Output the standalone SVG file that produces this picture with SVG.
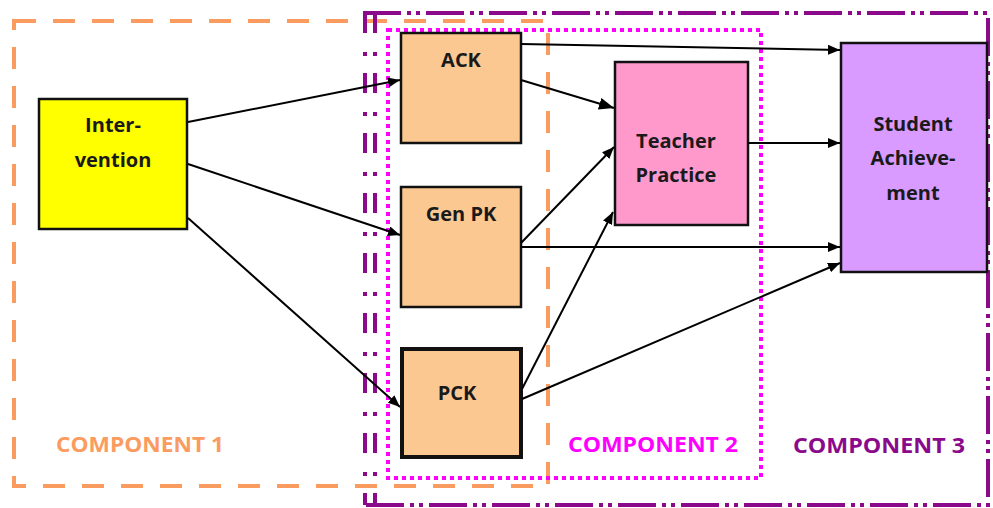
<svg xmlns="http://www.w3.org/2000/svg" width="993" height="508" viewBox="0 0 993 508">
<defs>
<marker id="ah" markerUnits="userSpaceOnUse" markerWidth="12" markerHeight="10" refX="12" refY="5" orient="auto"><path d="M0,0 L12,5 L0,10 z" fill="#000"/></marker>
<marker id="ahb" markerUnits="userSpaceOnUse" markerWidth="15" markerHeight="12" refX="15" refY="6" orient="auto"><path d="M0,0 L15,6 L0,12 z" fill="#000"/></marker>
<style>
.lbl{font-family:"Open Sans","Liberation Sans",sans-serif;font-weight:bold;font-size:20px;fill:#1a1a1a;text-anchor:middle}
.comp{font-family:"Open Sans","Liberation Sans",sans-serif;font-weight:bold;font-size:21px}
.box{stroke:#111;stroke-width:2.5}
.conn{stroke:#000;stroke-width:2;fill:none}
.pur{stroke:#8B0A8B;stroke-width:4;fill:none}
</style>
</defs>
<g id="frame-component1">
<rect x="14" y="21" width="534" height="465" fill="none" stroke="#FA9C60" stroke-width="4" stroke-dasharray="22 17"/>
<text class="comp" x="56" y="452" fill="#FA9C60" textLength="168" lengthAdjust="spacingAndGlyphs">COMPONENT 1</text>
</g>
<g id="frame-component3">
<path class="pur" d="M363,13 H988 V505 H363" stroke-dasharray="38 6 4 5 4 6"/>
<path class="pur" d="M365,13 V505" stroke-dasharray="20 19 4 17"/>
<path class="pur" d="M375,13 V505" stroke-dasharray="20 19 4 17"/>
<text class="comp" x="793" y="453" fill="#8B0A8B" textLength="172" lengthAdjust="spacingAndGlyphs">COMPONENT 3</text>
</g>
<g id="frame-component2">
<rect x="388" y="30" width="373" height="448" fill="none" stroke="#FF00FF" stroke-width="4" stroke-dasharray="4 4"/>
<text class="comp" x="568" y="452" fill="#FF00FF" textLength="170" lengthAdjust="spacingAndGlyphs">COMPONENT 2</text>
</g>
<g id="intervention">
<rect class="box" x="39" y="99" width="148" height="130" fill="#FFFF00"/>
<text class="lbl" x="113" y="132">Inter-</text>
<text class="lbl" x="113" y="167">vention</text>
</g>
<g id="ack">
<rect class="box" x="401" y="33" width="120" height="110" fill="#FCC892"/>
<text class="lbl" x="461" y="67">ACK</text>
</g>
<g id="genpk">
<rect class="box" x="401" y="187" width="120" height="120" fill="#FCC892"/>
<text class="lbl" x="461" y="221">Gen PK</text>
</g>
<g id="pck">
<rect x="402" y="349" width="119" height="108" fill="#FCC892" stroke="#111" stroke-width="4"/>
<text class="lbl" x="457" y="400">PCK</text>
</g>
<g id="teacher-practice">
<rect class="box" x="615" y="62" width="133" height="163" fill="#FF99CC"/>
<text class="lbl" x="676" y="148">Teacher</text>
<text class="lbl" x="676" y="182">Practice</text>
</g>
<g id="student-achievement">
<rect class="box" x="841" y="43" width="146" height="229" fill="#D99BFF"/>
<text class="lbl" x="913" y="131">Student</text>
<text class="lbl" x="913" y="165">Achieve-</text>
<text class="lbl" x="913" y="200">ment</text>
</g>
<g id="connectors">
<line class="conn" x1="188" y1="122" x2="400" y2="80" marker-end="url(#ah)"/>
<line class="conn" x1="188" y1="164" x2="400" y2="235" marker-end="url(#ah)"/>
<line class="conn" x1="188" y1="218" x2="400" y2="407" marker-end="url(#ah)"/>
<line class="conn" x1="521" y1="44" x2="840" y2="50" marker-end="url(#ah)"/>
<line class="conn" x1="521" y1="80" x2="614" y2="108" stroke-width="2.5" marker-end="url(#ahb)"/>
<line class="conn" x1="521" y1="243" x2="614" y2="147" marker-end="url(#ah)"/>
<line class="conn" x1="521" y1="247" x2="840" y2="247" marker-end="url(#ah)"/>
<line class="conn" x1="522" y1="389" x2="613" y2="212" marker-end="url(#ah)"/>
<line class="conn" x1="522" y1="399" x2="840" y2="263" marker-end="url(#ah)"/>
<line class="conn" x1="748" y1="143" x2="840" y2="143" marker-end="url(#ah)"/>
</g>
</svg>
